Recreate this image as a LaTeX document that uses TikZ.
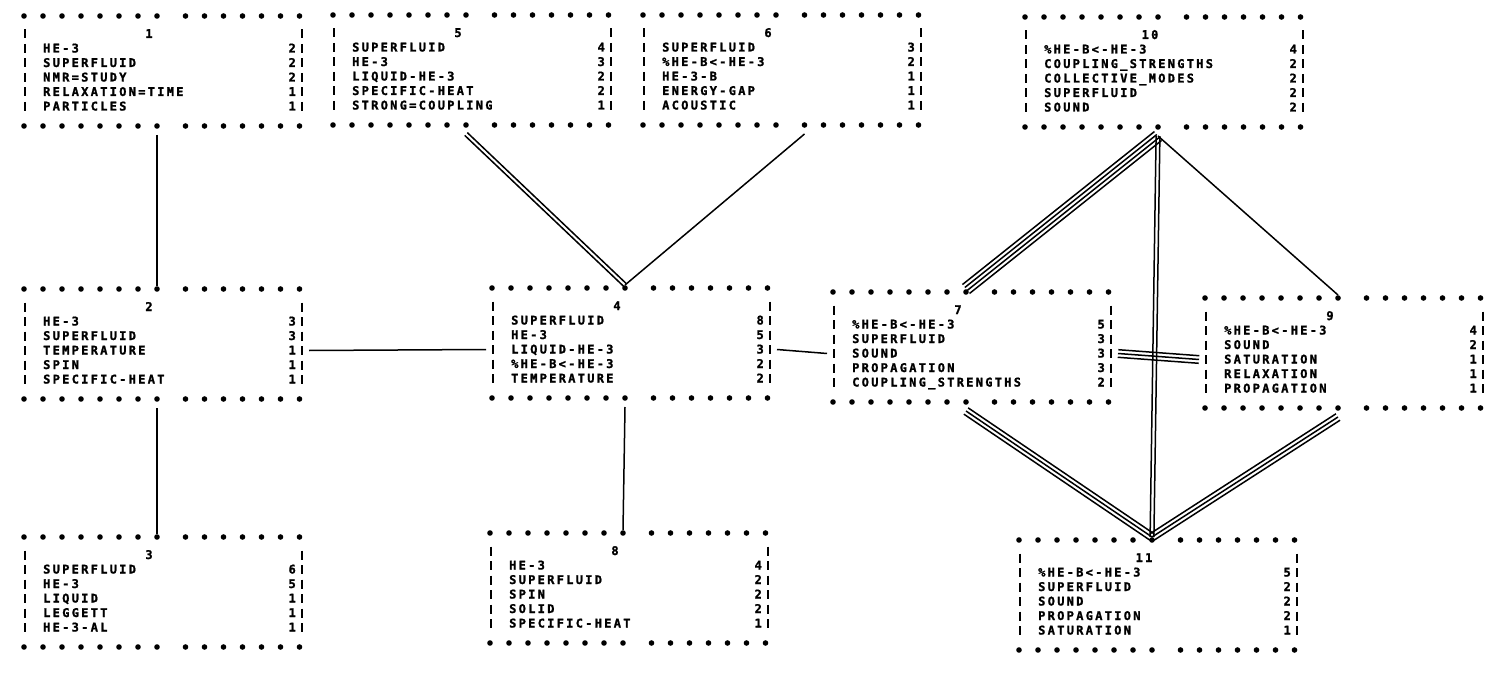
\documentclass[tikz,border=0pt]{standalone}
\usepackage{fontspec}
\newfontfamily\prt{DejaVu Sans Mono}[LetterSpace=19,BoldFeatures={FakeBold=1.5}]
\usetikzlibrary{calc}
\newcommand{\kwbox}[4]{%
\begin{scope}[shift={#2}]
\foreach \k in {0,...,7}
  \fill (19*\k,0) circle (2.8) (19*\k,110) circle (2.8);
\foreach \k in {0,...,6}
  \fill (161.5+19*\k,0) circle (2.8) (161.5+19*\k,110) circle (2.8);
\foreach \r in {18,32.5,47,61.5,76,90.5}
  \draw[bar] (1,\r-4.5) -- (1,\r+4.5) (278,\r-4.5) -- (278,\r+4.5);
\node[boxno] (#1) at (125,18) {#3};
\foreach \kw/\kn [count=\c] in {#4}{
  \node[word] (#1-w\c) at (19,18+14.5*\c) {\kw};
  \node[tally] (#1-c\c) at (272,18+14.5*\c) {\kn};}
\coordinate (#1-n) at (133,-3);
\coordinate (#1-s) at (133,119);
\coordinate (#1-sr) at (161.5,119);
\coordinate (#1-e) at (285,61.5);
\coordinate (#1-w) at (-6,61.5);
\end{scope}}
\newcommand{\links}[3]{%
\foreach \j in {1,...,#1}{
  \pgfmathsetmacro\off{(\j-(#1+1)/2)*3.8}
  \draw[link] ($(#2)!\off pt!90:(#3)$) -- ($(#3)!\off pt!-90:(#2)$);}}
\begin{document}
\begin{tikzpicture}[x=1pt,y=-1pt,
  bar/.style={line width=1.5pt},
  link/.style={line width=1.5pt},
  word/.style={anchor=west,inner sep=0pt,text height=8pt,text depth=0pt,
    font={\fontsize{12}{12}\prt\bfseries}},
  tally/.style={word,anchor=east},
  boxno/.style={word,anchor=center}]
\useasboundingbox (0,0) rectangle (1500,674);
\kwbox{k1}{(24,16)}{1}{HE-3/2, SUPERFLUID/2, NMR=STUDY/2, RELAXATION=TIME/1, PARTICLES/1}
\kwbox{k5}{(333,15)}{5}{SUPERFLUID/4, HE-3/3, LIQUID-HE-3/2, SPECIFIC-HEAT/2, STRONG=COUPLING/1}
\kwbox{k6}{(643,15)}{6}{SUPERFLUID/3, \%HE-B<-HE-3/2, HE-3-B/1, ENERGY-GAP/1, ACOUSTIC/1}
\kwbox{k10}{(1025,17)}{10}{\%HE-B<-HE-3/4, COUPLING\_STRENGTHS/2, COLLECTIVE\_MODES/2, SUPERFLUID/2, SOUND/2}
\kwbox{k2}{(24,289)}{2}{HE-3/3, SUPERFLUID/3, TEMPERATURE/1, SPIN/1, SPECIFIC-HEAT/1}
\kwbox{k4}{(492,288)}{4}{SUPERFLUID/8, HE-3/5, LIQUID-HE-3/3, \%HE-B<-HE-3/2, TEMPERATURE/2}
\kwbox{k7}{(833,292)}{7}{\%HE-B<-HE-3/5, SUPERFLUID/3, SOUND/3, PROPAGATION/3, COUPLING\_STRENGTHS/2}
\kwbox{k9}{(1205,298)}{9}{\%HE-B<-HE-3/4, SOUND/2, SATURATION/1, RELAXATION/1, PROPAGATION/1}
\kwbox{k3}{(24,537)}{3}{SUPERFLUID/6, HE-3/5, LIQUID/1, LEGGETT/1, HE-3-AL/1}
\kwbox{k8}{(490,533)}{8}{HE-3/4, SUPERFLUID/2, SPIN/2, SOLID/2, SPECIFIC-HEAT/1}
\kwbox{k11}{(1019,540)}{11}{\%HE-B<-HE-3/5, SUPERFLUID/2, SOUND/2, PROPAGATION/2, SATURATION/1}
\draw[link] (k1-s) -- (k2-n);
\draw[link] (k2-s) -- (k3-n);
\draw[link] (k2-e) -- (k4-w);
\draw[link] (k4-e) -- (k7-w);
\draw[link] (k4-s) -- (k8-n);
\draw[link] (k6-sr) -- (k4-n);
\draw[link] (k10-s) -- (k9-n);
\links{2}{k5-s}{k4-n}
\links{4}{k7-n}{k10-s}
\links{2}{k10-s}{k11-n}
\links{3}{k7-e}{k9-w}
\links{3}{k7-s}{k11-n}
\links{3}{k9-s}{k11-n}
\end{tikzpicture}
\end{document}
